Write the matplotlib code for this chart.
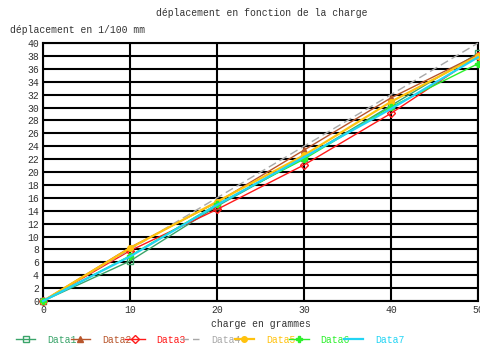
import matplotlib
matplotlib.use("Agg")
import matplotlib.pyplot as plt

# charge (g) and measured displacement (1/100 mm) for each run
charge = [0, 10, 20, 30, 40, 50]
data1 = [0, 6.2, 14.7, 22.2, 30.3, 38.4]
data2 = [0, 8.3, 15.3, 23.4, 31.5, 38.2]
data3 = [0, 7.8, 14.2, 21.1, 29.1, 38.0]
data4 = [0, 8.0, 16.0, 24.0, 32.0, 40.0]
data5 = [0, 8.2, 15.4, 22.6, 30.9, 38.0]
data6 = [0, 7.0, 15.0, 22.0, 30.1, 36.8]
data7 = [0, 6.9, 14.9, 22.3, 29.8, 37.8]

series = [data1, data2, data3, data4, data5, data6, data7]
labels = ["Data1", "Data2", "Data3", "Data4", "Data5", "Data6", "Data7"]
colors = ["#3aa46a", "#b8562c", "#ff1a1a", "#a8a8a8", "#ffc20e", "#2cf02c", "#22d4f4"]
markers = ["s", "^", "D", "", "o", "P", ""]
styles = ["-", "-", "-", (0, (6, 3)), "-", "-", "-"]
widths = [1.0, 1.0, 1.0, 1.0, 1.6, 1.0, 1.6]

plt.rcParams['font.family'] = ['Liberation Mono', 'DejaVu Sans Mono']

fig = plt.figure(figsize=(4.8, 3.45), dpi=100)
ax = fig.add_axes([0.0896, 0.1275, 0.906, 0.7475])

for y, lab, c, m, ls, lw in zip(series, labels, colors, markers, styles, widths):
    ax.plot(charge, y, color=c, marker=m, linestyle=ls, linewidth=lw,
            markersize=4, markerfacecolor='none' if m in ("s", "D") else c,
            markeredgewidth=1, label=lab, clip_on=False, zorder=3)

ax.set_xlim(0, 50)
ax.set_ylim(0, 40)
ax.set_xticks(range(0, 51, 10))
ax.set_yticks(range(0, 41, 2))
ax.grid(True, color='black', linewidth=1.5)
ax.set_axisbelow(True)
ax.tick_params(length=0, labelsize=7, colors='#333333', pad=3)
for s in ax.spines.values():
    s.set_color('black')
    s.set_linewidth(1.5)

fig.text(0.545, 0.962, "déplacement en fonction de la charge", ha='center',
         va='center', fontsize=7, color='#333333')
fig.text(0.02, 0.912, "déplacement en 1/100 mm", ha='left', va='center',
         fontsize=7, color='#333333')
ax.set_xlabel("charge en grammes", fontsize=7, color='#333333', labelpad=3)

leg = ax.legend(loc='upper left', bbox_to_anchor=(-0.062, -0.13), ncol=7,
                frameon=False, fontsize=7, handlelength=2.0, handletextpad=1.2,
                columnspacing=-0.6, borderpad=0, borderaxespad=0)
for txt, c in zip(leg.get_texts(), colors):
    txt.set_color(c)

fig.savefig("out.png", dpi=100)
